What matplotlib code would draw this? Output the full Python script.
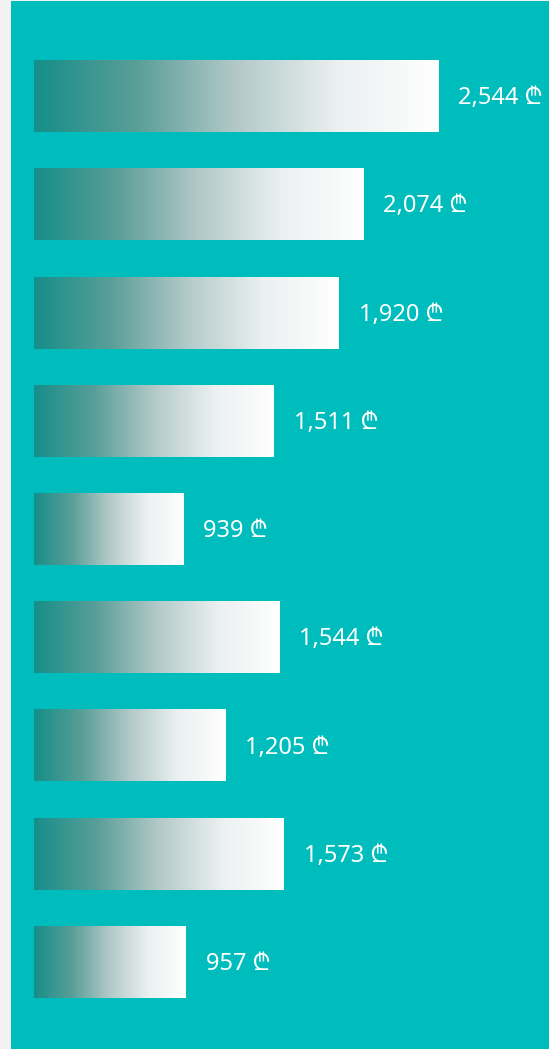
import numpy as np
import matplotlib
matplotlib.use("Agg")
import matplotlib.pyplot as plt
from matplotlib.colors import LinearSegmentedColormap

# values, top to bottom
values = [2544, 2074, 1920, 1511, 939, 1544, 1205, 1573, 957]
labels = ["2,544 ₾", "2,074 ₾", "1,920 ₾", "1,511 ₾", "939 ₾",
          "1,544 ₾", "1,205 ₾", "1,573 ₾", "957 ₾"]

bg = "#00BDBD"
grad = LinearSegmentedColormap.from_list(
    "bar", [(0.0, "#168E89"), (0.25, "#5A9E98"), (0.5, "#B2C9C8"),
            (0.75, "#EBF0F0"), (1.0, "#FFFFFF")])

fig = plt.figure(figsize=(5.49, 10.49), dpi=100)
fig.patch.set_facecolor("#F2F2F2")
ax = fig.add_axes([11 / 549, 0, 538 / 549, 1048 / 1049])
ax.set_facecolor(bg)
ax.axis("off")
ax.add_patch(plt.Rectangle((0, 0), 1, 1, transform=ax.transAxes,
                           color=bg, zorder=0))

fams = ["Noto Sans", "Inter", "Roboto", "Open Sans", "DejaVu Sans"]
h = 0.665
ramp = np.linspace(0, 1, 256).reshape(1, -1)
for i, (v, lab) in enumerate(zip(values, labels)):
    ax.imshow(ramp, cmap=grad, aspect="auto", interpolation="bilinear",
              extent=(0, v, i + h / 2, i - h / 2), zorder=2)
    ax.text(v + 126, i + 0.02, lab, color="white", fontsize=17,
            family=fams, va="center", ha="left", zorder=3)

ax.set_xlim(-144.8, 3243)
ax.set_ylim(8.804, -0.878)

fig.savefig("out.png", dpi=100, facecolor=fig.get_facecolor())
